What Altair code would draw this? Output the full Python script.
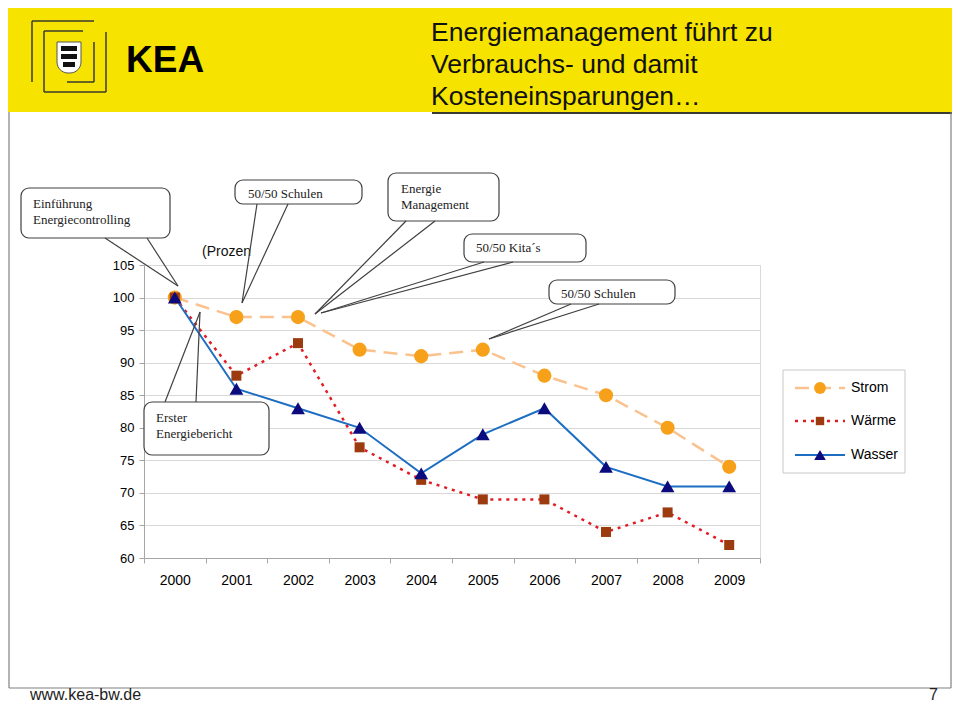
import altair as alt
import pandas as pd

# ---------------- data ----------------
years = ["2000", "2001", "2002", "2003", "2004", "2005", "2006", "2007", "2008", "2009"]
strom = [100, 97, 97, 92, 91, 92, 88, 85, 80, 74]
waerme = [100, 88, 93, 77, 72, 69, 69, 64, 67, 62]
wasser = [100, 86, 83, 80, 73, 79, 83, 74, 71, 71]
series_names = ["Strom", "Wärme", "Wasser"]
y_tick_values = [60, 65, 70, 75, 80, 85, 90, 95, 100, 105]
y_domain = [60, 105]

title_lines = ["Energiemanagement führt zu", "Verbrauchs- und damit", "Kosteneinsparungen…"]
logo_text = "KEA"
axis_caption = "(Prozen"
callout_texts = [
    ["Einführung", "Energiecontrolling"],
    ["50/50 Schulen"],
    ["Energie", "Management"],
    ["50/50 Kita´s"],
    ["50/50 Schulen"],
    ["Erster", "Energiebericht"],
]
footer_left = "www.kea-bw.de"
footer_right = "7"

# ---------------- layout / styles ----------------
SANS = "Liberation Sans"
SERIF = "Liberation Serif"
PLOT_W, PLOT_H = 616, 293
PAD_L, PAD_T = 136, 257
TOTAL_W, TOTAL_H = 944, 697
OX, OY = 8 + PAD_L, 8 + PAD_T  # page position of plot origin

STYLE = {
    "Strom": dict(line="#FAC28E", dash=[14, 8], width=2.5, shape="circle", mcolor="#F7A11A", size=200),
    "Wärme": dict(line="#E31B23", dash=[3, 5], width=2.5, shape="square", mcolor="#9C3B0F", size=100),
    "Wasser": dict(line="#1D6EC2", dash=None, width=2, shape="triangle-up", mcolor="#0B0B7E", size=190),
}

GRID = "#d9d9d9"
AXIS_GRAY = "#a6a6a6"
BOX_STROKE = "#404040"

data = pd.DataFrame({
    "Jahr": years * 3,
    "Wert": strom + waerme + wasser,
    "Reihe": sum([[n] * len(years) for n in series_names], []),
})

x_enc = alt.X(
    "Jahr:O",
    scale=alt.Scale(type="band", domain=years, paddingInner=0, paddingOuter=0),
    bandPosition=0.5,
    axis=alt.Axis(orient="bottom", title=None, labelAngle=0, tickBand="extent", tickSize=5,
                  tickColor=AXIS_GRAY, domainColor=AXIS_GRAY, labelFont=SANS, labelFontSize=14,
                  labelColor="#000000", labelPadding=10, grid=False),
)
y_enc = alt.Y(
    "Wert:Q",
    scale=alt.Scale(domain=y_domain, nice=False, zero=False),
    axis=alt.Axis(orient="left", title=None, values=y_tick_values, grid=True, gridColor=GRID,
                  tickSize=5, tickColor=AXIS_GRAY, domainColor=AXIS_GRAY, labelFont=SANS,
                  labelFontSize=13, labelColor="#000000", labelPadding=5),
)

line_layers, point_layers = [], []
for name in series_names:
    st = STYLE[name]
    base = alt.Chart(data).transform_filter(alt.datum.Reihe == name)
    lkw = dict(color=st["line"], strokeWidth=st["width"])
    if st["dash"]:
        lkw["strokeDash"] = st["dash"]
    line_layers.append(base.mark_line(**lkw).encode(x=x_enc, y=y_enc))
    point_layers.append(base.mark_point(shape=st["shape"], filled=True, size=st["size"],
                                        color=st["mcolor"], opacity=1).encode(x=x_enc, y=y_enc))
data_layer = alt.layer(*line_layers, *point_layers)


# ---------------- decoration helpers (page pixel coordinates) ----------------
def PX(f):
    return alt.X(f"{f}:Q", scale=None, axis=None)


def PY(f):
    return alt.Y(f"{f}:Q", scale=None, axis=None)


def seg_df(segs):
    return pd.DataFrame([{"x": a - OX, "y": b - OY, "x2": c - OX, "y2": d - OY} for a, b, c, d in segs])


def rules(segs, **style):
    return alt.Chart(seg_df(segs)).mark_rule(**style).encode(x=PX("x"), y=PY("y"), x2="x2:Q", y2="y2:Q")


def rects(boxes, **style):
    return alt.Chart(seg_df(boxes)).mark_rect(**style).encode(x=PX("x"), y=PY("y"), x2="x2:Q", y2="y2:Q")


def texts(items, **style):
    df = pd.DataFrame([{"x": x - OX, "y": y - OY, "t": t} for x, y, t in items])
    return alt.Chart(df).mark_text(**style).encode(x=PX("x"), y=PY("y"), text="t:N")


def points(items, **style):
    df = pd.DataFrame([{"x": x - OX, "y": y - OY} for x, y in items])
    return alt.Chart(df).mark_point(**style).encode(x=PX("x"), y=PY("y"))


def tri_rows(pid, pts):
    pts = [(x - OX, y - OY) for x, y in pts]
    edges = [(pts[0], pts[1]), (pts[1], pts[2]), (pts[2], pts[0])]
    rows = []
    for x in sorted(set(p[0] for p in pts)):
        ys = []
        for (x1, y1), (x2, y2) in edges:
            if x1 == x2:
                if x == x1:
                    ys += [y1, y2]
            elif min(x1, x2) <= x <= max(x1, x2):
                ys.append(y1 + (y2 - y1) * (x - x1) / (x2 - x1))
        rows.append({"pid": pid, "x": x, "y": min(ys), "y2": max(ys)})
    return rows


deco = []

# slide header
deco.append(rects([(8, 8, 952, 112)], color="#F6E400"))
deco.append(rules([(432, 113, 952, 113)], color="#3a3a30", strokeWidth=2))
# slide frame
deco.append(rules([(9, 112, 9, 688), (951, 112, 951, 688), (9, 688, 951, 688)], color="#808080", strokeWidth=1.2))

# logo
deco.append(rules([
    (32, 21, 94, 21), (32, 21, 32, 82),
    (44, 31, 83, 31), (44, 31, 44, 92),
    (106, 32, 106, 92), (44, 92, 106, 92),
    (94, 42, 94, 82), (67, 82, 94, 82),
], color="#3a3a2a", strokeWidth=1.5))
deco.append(rects([(57, 42, 81, 73)], color="white", stroke="#555555", strokeWidth=1,
                  cornerRadiusBottomLeft=11, cornerRadiusBottomRight=11))
deco.append(rects([(61, 46, 77, 51), (61, 54, 77, 59), (63, 62, 75, 67)], color="#111111"))
deco.append(texts([(126, 72, logo_text)], font=SANS, fontWeight="bold",
                  fontSize=37, align="left", baseline="alphabetic", color="#000000"))

# title
deco.append(texts([(431, 41 + 32 * i, t) for i, t in enumerate(title_lines)], font=SANS, fontSize=26.5,
                  align="left", baseline="alphabetic", color="#111111"))

# footer
deco.append(texts([(30, 700, footer_left)], font=SANS, fontSize=16, align="left", baseline="alphabetic",
                  color="#222222"))
deco.append(texts([(938, 700, footer_right)], font=SANS, fontSize=16, align="right", baseline="alphabetic",
                  color="#222222"))

# partially hidden axis caption
deco.append(texts([(202, 256, axis_caption)], font=SANS, fontSize=14, align="left", baseline="alphabetic",
                  color="#111111"))

# legend
legend_rows = [388, 421, 455]
deco.append(rects([(783, 370, 905, 473)], color="white", stroke="#c8c8c8", strokeWidth=1))
for name, ly in zip(series_names, legend_rows):
    st = STYLE[name]
    kw = dict(color=st["line"], strokeWidth=st["width"])
    if st["dash"]:
        kw["strokeDash"] = st["dash"]
    deco.append(rules([(795, ly, 845, ly)], **kw))
    deco.append(points([(820, ly)], shape=st["shape"], filled=True, size=st["size"] * 0.7,
                       color=st["mcolor"], opacity=1))
deco.append(texts([(851, ly, n) for n, ly in zip(series_names, legend_rows)], font=SANS, fontSize=14,
                  align="left", baseline="middle", color="#000000"))

# callouts
boxes = [(21, 188, 170, 238), (235, 180, 362, 204), (388, 173, 499, 221),
         (464, 234, 586, 262), (549, 280, 675, 304), (144, 402, 269, 455)]
text_pos = [(33, [208, 224]), (248, [198]), (401, [193, 209]), (476, [252]), (561, [298]), (156, [422, 438])]
pointers = [((105, 147, 238), (178, 286)), ((257, 288, 204), (242, 303)), ((406, 435, 221), (315, 314)),
            ((484, 513, 262), (321, 313)), ((571, 599, 304), (489, 339)), ((165, 196, 402), (200, 312))]

deco.append(rects(boxes, color="white", stroke=BOX_STROKE, strokeWidth=1.2, cornerRadius=8))
tri = []
plines = []
for i, ((xa, xb, yb), (xt, yt)) in enumerate(pointers):
    yi = yb - 2 if yt > yb else yb + 2
    tri += tri_rows(i, [(xa, yi), (xb, yi), (xt, yt)])
    plines += [(xa, yb, xt, yt), (xb, yb, xt, yt)]
deco.append(alt.Chart(pd.DataFrame(tri)).mark_area(color="white", opacity=1).encode(
    x=PX("x"), y=PY("y"), y2="y2:Q", detail="pid:N", order="x:Q"))
deco.append(rules(plines, color=BOX_STROKE, strokeWidth=1.2))
ct = []
for (tx, ys), lines in zip(text_pos, callout_texts):
    for yy, t in zip(ys, lines):
        ct.append((tx, yy, t))
deco.append(texts(ct, font=SERIF, fontSize=13, align="left", baseline="alphabetic", color="#222222"))

deco_layer = alt.layer(*deco).resolve_scale(x="independent", y="independent")

chart = alt.layer(data_layer, deco_layer).resolve_scale(x="independent", y="independent").properties(
    width=PLOT_W,
    height=PLOT_H,
    autosize="none",
    padding={"left": PAD_L, "top": PAD_T, "right": TOTAL_W - PAD_L - PLOT_W,
             "bottom": TOTAL_H - PAD_T - PLOT_H},
    background="white",
).configure_view(stroke=GRID)

chart.save("out.html", embed_options={"renderer": "svg", "actions": False})
